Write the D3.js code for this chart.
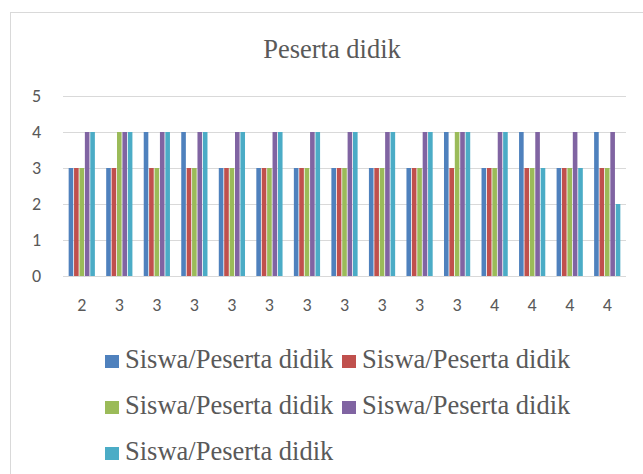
<!DOCTYPE html>
<html>
<head>
<meta charset="utf-8">
<script src="https://cdn.jsdelivr.net/npm/d3@7"></script>
<style>
  body { margin: 0; background: #fff; }
  svg { display: block; }
</style>
</head>
<body>
<svg id="grafico"></svg>
<script>
"use strict"
// dati
const kategori = ["2", "3", "3", "3", "3", "3", "3", "3", "3", "3", "3", "4", "4", "4", "4"];
const seri1 = [3, 3, 4, 4, 3, 3, 3, 3, 3, 3, 4, 3, 4, 3, 4];
const seri2 = [3, 3, 3, 3, 3, 3, 3, 3, 3, 3, 3, 3, 3, 3, 3];
const seri3 = [3, 4, 3, 3, 3, 3, 3, 3, 3, 3, 4, 3, 3, 3, 3];
const seri4 = [4, 4, 4, 4, 4, 4, 4, 4, 4, 4, 4, 4, 4, 4, 4];
const seri5 = [4, 4, 4, 4, 4, 4, 4, 4, 4, 4, 4, 4, 3, 3, 2];
const namaSeri = ["Siswa/Peserta didik", "Siswa/Peserta didik", "Siswa/Peserta didik", "Siswa/Peserta didik", "Siswa/Peserta didik"];
const warna = ["#4f81bd", "#c0504d", "#9bbb59", "#8064a2", "#4bacc6"];
const tickY = [0, 1, 2, 3, 4, 5];

const semuaSeri = [seri1, seri2, seri3, seri4, seri5];
const w = 643, h = 474;

const svg = d3.select("#grafico")
    .attr("width", w)
    .attr("height", h);

// bordo
svg.append("rect")
    .attr("x", 10.5).attr("y", 12.5)
    .attr("width", 640).attr("height", 470)
    .attr("fill", "#fff")
    .attr("stroke", "#d9d9d9");

svg.append("text")
    .attr("x", 332).attr("y", 58)
    .attr("text-anchor", "middle")
    .attr("font-family", "Liberation Serif, Times New Roman, serif")
    .attr("font-size", "26.5px")
    .attr("fill", "#595959")
    .text("Peserta didik");

const scalaY = d3.scaleLinear().domain([0, 5]).range([276, 96]);
const indici = kategori.map(function (d, i) { return i });
const scalaX = d3.scaleBand().domain(indici).range([63, 626]).paddingInner(0.28).paddingOuter(0.14);
const scalaSerie = d3.scaleBand().domain(d3.range(semuaSeri.length)).range([0, scalaX.bandwidth()]);

// griglia
svg.append("g")
    .selectAll("line")
    .data(tickY)
    .enter()
    .append("line")
    .attr("x1", 63).attr("x2", 626)
    .attr("y1", function (d) { return Math.round(scalaY(d)) + 0.5 })
    .attr("y2", function (d) { return Math.round(scalaY(d)) + 0.5 })
    .attr("stroke", "#d9d9d9")
    .attr("stroke-width", 1.2);

// barre
const gruppi = svg.append("g")
    .selectAll("g")
    .data(indici)
    .enter()
    .append("g")
    .attr("transform", function (i) { return `translate(${scalaX(i)},0)` });

gruppi.selectAll("rect")
    .data(function (i) { return semuaSeri.map(function (s, j) { return { j: j, v: s[i] } }) })
    .enter()
    .append("rect")
    .attr("x", function (d) { return scalaSerie(d.j) + 0.4 })
    .attr("width", scalaSerie.bandwidth() - 0.8)
    .attr("y", function (d) { return scalaY(d.v) })
    .attr("height", function (d) { return scalaY(0) - scalaY(d.v) })
    .attr("fill", function (d) { return warna[d.j] });

// asse Y
const asseY = d3.axisLeft(scalaY).tickValues(tickY).tickSize(0).tickPadding(0).tickFormat(d3.format("d"));
svg.append("g")
    .attr("transform", "translate(41,0)")
    .call(asseY)
    .call(function (g) { g.select(".domain").remove() })
    .selectAll("text")
    .attr("font-family", "Carlito, Liberation Sans, Arial, sans-serif")
    .attr("font-size", "18px")
    .attr("fill", "#595959");

// asse X
const asseX = d3.axisBottom(scalaX).tickSize(0).tickPadding(0).tickFormat(function (i) { return kategori[i] });
svg.append("g")
    .attr("transform", "translate(0,298)")
    .call(asseX)
    .call(function (g) { g.select(".domain").remove() })
    .selectAll("text")
    .attr("font-family", "Carlito, Liberation Sans, Arial, sans-serif")
    .attr("font-size", "18px")
    .attr("fill", "#595959");

// legenda
const posLegenda = [[105, 368], [342, 368], [105, 414], [342, 414], [105, 460]];
const legenda = svg.append("g")
    .selectAll("g")
    .data(namaSeri)
    .enter()
    .append("g")
    .attr("transform", function (d, i) { return `translate(${posLegenda[i][0]},${posLegenda[i][1]})` });

legenda.append("rect")
    .attr("x", 0).attr("y", -13)
    .attr("width", 14).attr("height", 13)
    .attr("fill", function (d, i) { return warna[i] });

legenda.append("text")
    .attr("x", 20).attr("y", 0)
    .attr("font-family", "Liberation Serif, Times New Roman, serif")
    .attr("font-size", "26.5px")
    .attr("fill", "#595959")
    .text(function (d) { return d });
</script>
</body>
</html>
